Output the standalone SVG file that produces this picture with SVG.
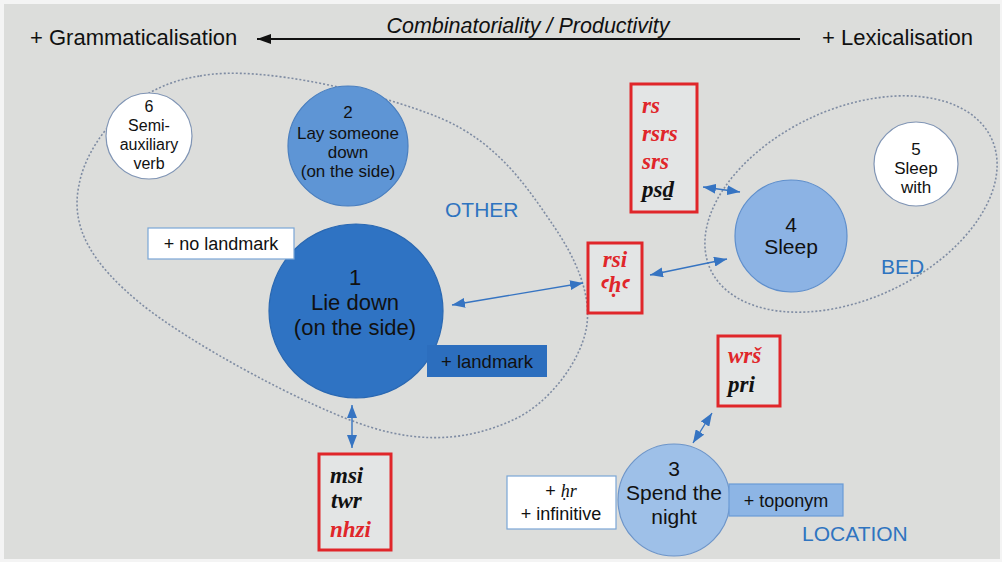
<svg xmlns="http://www.w3.org/2000/svg" width="1002" height="562" viewBox="0 0 1002 562">
<style>
.sans{font-family:"Liberation Sans",Arial,sans-serif;fill:#111;}
.tr{font-family:"Liberation Serif","DejaVu Serif","Noto Sans",serif;font-weight:bold;font-style:italic;font-size:23px;}
.red{fill:#e0262a;}
.blk{fill:#111;}
.lab{font-family:"Liberation Sans",Arial,sans-serif;fill:#2f74c0;font-size:21px;}
.rbox{fill:#e3e5e5;stroke:#e0262a;stroke-width:3;}
.grp{fill:none;stroke:#7f8ca3;stroke-width:1.6;stroke-dasharray:2 2;}
.con{stroke:#3674c2;stroke-width:1.4;fill:none;marker-start:url(#ah);marker-end:url(#ah);}
</style>
<defs>
<marker id="ah" markerUnits="userSpaceOnUse" markerWidth="13" markerHeight="10" refX="13" refY="5" orient="auto-start-reverse">
<path d="M0,0 L13,5 L0,10 z" fill="#3674c2"/>
</marker>
<marker id="bh" markerUnits="userSpaceOnUse" markerWidth="14" markerHeight="10" refX="14" refY="5" orient="auto">
<path d="M0,0 L14,5 L0,10 z" fill="#111"/>
</marker>
</defs>
<rect x="0" y="0" width="1002" height="562" fill="#f4f4f4"/>
<rect x="4" y="4" width="996" height="555" fill="#dcdddb"/>

<g id="scale">
<text class="sans" x="30" y="45" font-size="22">+ Grammaticalisation</text>
<text class="sans" x="822" y="45" font-size="22">+ Lexicalisation</text>
<text class="sans" x="528" y="33" font-size="21.5" font-style="italic" text-anchor="middle">Combinatoriality / Productivity</text>
<line x1="800" y1="39" x2="257" y2="39" stroke="#111" stroke-width="2" marker-end="url(#bh)"/>
</g>

<g id="group-other">
<path class="grp" d="M200,76 C259.7,64 381.2,93.5 440,118 C498.8,142.5 528.7,189.7 553,225 C577.3,260.3 592.7,297.5 586,330 C579.3,362.5 549,403.8 513,420 C477,436.2 432.2,446.5 370,427 C307.8,407.5 188,342.5 140,303 C92,263.5 70,227.5 79,185 C86,145 128,86 200,76 Z"/>
<text class="lab" x="445" y="217">OTHER</text>
</g>
<g id="group-bed">
<ellipse class="grp" cx="851" cy="204" rx="155" ry="95" transform="rotate(-25 851 204)"/>
<text class="lab" x="881" y="274">BED</text>
</g>
<g id="group-location">
<text class="lab" x="802" y="541">LOCATION</text>
</g>

<g id="connectors">
<line class="con" x1="452" y1="305" x2="583" y2="283"/>
<line class="con" x1="650" y1="275" x2="727" y2="259"/>
<line class="con" x1="703" y1="187" x2="740" y2="192"/>
<line class="con" x1="352" y1="405" x2="352" y2="448"/>
<line class="con" x1="712" y1="413" x2="693" y2="443"/>
</g>

<g id="node6">
<circle cx="149" cy="136" r="43" fill="#ffffff" stroke="#8095b5" stroke-width="1.2"/>
<text class="sans" font-size="16" text-anchor="middle"><tspan x="149" y="112">6</tspan><tspan x="149" y="131">Semi-</tspan><tspan x="149" y="150">auxiliary</tspan><tspan x="149" y="169">verb</tspan></text>
</g>

<g id="node2">
<circle cx="348" cy="146" r="60" fill="#5e95d5" stroke="#4a7fbf" stroke-width="1.2"/>
<text class="sans" font-size="17" text-anchor="middle"><tspan x="348" y="118">2</tspan><tspan x="348" y="139">Lay someone</tspan><tspan x="348" y="158">down</tspan><tspan x="348" y="177">(on the side)</tspan></text>
</g>

<g id="node1">
<circle cx="356" cy="311" r="87" fill="#2f73c3" stroke="#2a68b2" stroke-width="1.2"/>
<text class="sans" font-size="22" text-anchor="middle"><tspan x="355" y="285">1</tspan><tspan x="355" y="310">Lie down</tspan><tspan x="355" y="335">(on the side)</tspan></text>
</g>

<g id="no-landmark">
<rect x="148" y="228" width="146" height="31" fill="#ffffff" stroke="#7aa6d6" stroke-width="1.2"/>
<text class="sans" x="221" y="250" font-size="18" text-anchor="middle">+ no landmark</text>
</g>

<g id="landmark">
<rect x="427" y="345" width="120" height="32" fill="#2c6ebe"/>
<text class="sans" x="487" y="368" font-size="18.5" text-anchor="middle">+ landmark</text>
</g>

<g id="box-rs">
<rect class="rbox" x="631" y="84" width="66" height="128"/>
<text class="tr" font-size="24"><tspan class="red" x="642" y="113">rs</tspan><tspan class="red" x="642" y="141">rsrs</tspan><tspan class="red" x="642" y="169">srs</tspan><tspan class="blk" x="642" y="197">psḏ</tspan></text>
</g>

<g id="box-rsi">
<rect class="rbox" x="588" y="243" width="54" height="70"/>
<text class="tr red" x="615" y="267" font-size="22" text-anchor="middle">rsi</text>
<text class="tr red" x="615" y="292" font-size="22" text-anchor="middle">ꜥḥꜥ</text>
</g>

<g id="box-msi">
<rect class="rbox" x="319" y="454" width="72" height="96"/>
<text class="tr" font-size="23"><tspan class="blk" x="330" y="483">msi</tspan><tspan class="blk" x="331" y="508">twr</tspan><tspan class="red" x="330" y="537">nhzi</tspan></text>
</g>

<g id="box-wrs">
<rect class="rbox" x="718" y="336" width="62" height="70"/>
<text class="tr" font-size="23"><tspan class="red" x="728" y="363">wrš</tspan><tspan class="blk" x="728" y="392">pri</tspan></text>
</g>

<g id="node4">
<circle cx="791" cy="236" r="56" fill="#8cb3e4" stroke="#5f8fcc" stroke-width="1.2"/>
<text class="sans" font-size="21" text-anchor="middle"><tspan x="791" y="232">4</tspan><tspan x="791" y="254">Sleep</tspan></text>
</g>

<g id="node5">
<circle cx="916" cy="164" r="42" fill="#ffffff" stroke="#8095b5" stroke-width="1.2"/>
<text class="sans" font-size="17" text-anchor="middle"><tspan x="916" y="155">5</tspan><tspan x="916" y="174">Sleep</tspan><tspan x="916" y="193">with</tspan></text>
</g>

<g id="hr-infinitive">
<rect x="507" y="476" width="109" height="53" fill="#ffffff" stroke="#7aa6d6" stroke-width="1.2"/>
<text class="sans" font-size="18" text-anchor="middle"><tspan x="561" y="497">+ <tspan font-family="Liberation Serif,DejaVu Serif,serif" font-style="italic">ḥr</tspan></tspan><tspan x="561" y="520">+ infinitive</tspan></text>
</g>

<g id="node3">
<circle cx="674" cy="500" r="56" fill="#9ec0e8" stroke="#6d95c9" stroke-width="1.2"/>
<text class="sans" font-size="21" text-anchor="middle"><tspan x="674" y="476">3</tspan><tspan x="674" y="500">Spend the</tspan><tspan x="674" y="524">night</tspan></text>
</g>

<g id="toponym">
<rect x="729" y="484" width="114" height="32" fill="#8db5e5" stroke="#6a9bd5" stroke-width="1.2"/>
<text class="sans" x="786" y="507" font-size="18" text-anchor="middle">+ toponym</text>
</g>
</svg>
